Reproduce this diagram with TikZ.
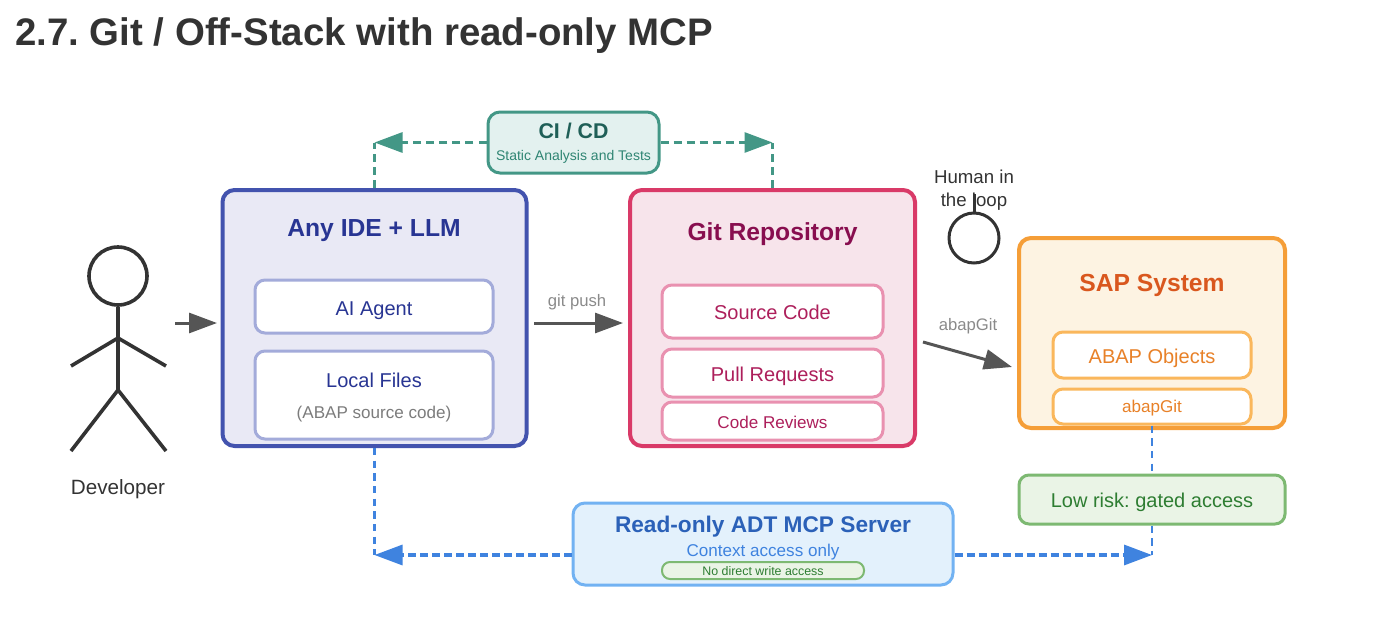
\documentclass[tikz,border=0pt]{standalone}
\usepackage{fontspec}
\setmainfont{Liberation Sans}
\usetikzlibrary{arrows.meta}
\definecolor{idefill}{HTML}{E9E9F5}
\definecolor{idedraw}{HTML}{4353AE}
\definecolor{idetext}{HTML}{283593}
\definecolor{ideinner}{HTML}{A3ABDA}
\definecolor{gitfill}{HTML}{F7E4EB}
\definecolor{gitdraw}{HTML}{D93A68}
\definecolor{gittext}{HTML}{880E4F}
\definecolor{gitinner}{HTML}{E991B0}
\definecolor{gitsub}{HTML}{AD1F5B}
\definecolor{sapfill}{HTML}{FDF3E2}
\definecolor{sapdraw}{HTML}{F59E38}
\definecolor{saptext}{HTML}{D9571E}
\definecolor{sapinner}{HTML}{FAB75C}
\definecolor{sapsub}{HTML}{E88128}
\definecolor{okfill}{HTML}{EAF4E6}
\definecolor{okdraw}{HTML}{7DB972}
\definecolor{oktext}{HTML}{2E7D32}
\definecolor{mcpfill}{HTML}{E3F1FC}
\definecolor{mcpdraw}{HTML}{72B2F2}
\definecolor{mcptext}{HTML}{2B61B8}
\definecolor{mcpsub}{HTML}{3F83DF}
\definecolor{cifill}{HTML}{E3F1EF}
\definecolor{cidraw}{HTML}{439786}
\definecolor{citext}{HTML}{1F5F57}
\definecolor{cisub}{HTML}{2F8573}
\definecolor{ink}{HTML}{333333}
\definecolor{arrowgrey}{HTML}{555555}
\definecolor{labelgrey}{HTML}{8A8A8A}
\tikzset{
  bx/.style 2 args={rectangle, rounded corners=#1*0.75pt, draw, inner sep=0pt, line width=#2*0.75pt},
  sz/.style 2 args={minimum width=#1*0.75pt, minimum height=#2*0.75pt},
  big/.style={bx={12}{4}},
  sub/.style={bx={10}{3}, fill=white},
  tx/.style={inner sep=0pt, align=center, font=\frenchspacing\fontsize{#1}{#1}\selectfont},
  txb/.style={inner sep=0pt, align=center, font=\frenchspacing\fontsize{#1}{#1}\bfseries\selectfont},
  head/.style={circle, draw=ink, inner sep=0pt},
  stick/.style={draw=ink, line width=2.7pt},
  flow/.style={draw=arrowgrey, line width=2.25pt, -{Triangle[length=21pt,width=15pt]}},
  cidash/.style={draw=cidraw, line width=2.2pt, dash pattern=on 6pt off 3.8pt},
  mcpdash/.style={draw=mcpsub, line width=2.4pt, dash pattern=on 6pt off 3pt},
  mcpthin/.style={draw=mcpsub, line width=1.7pt, dash pattern=on 5.5pt off 4pt},
  tip/.style={-{Triangle[length=21pt,width=15pt]}}
}
\begin{document}
\begin{tikzpicture}[x=0.75pt,y=-0.75pt]
  \useasboundingbox (0,0) rectangle (1376,632);
  \node[txb=28.8, text=ink, anchor=west] (title) at (15,36) {2.7. Git / Off-Stack with read-only MCP};

  % main boxes
  \node[big, sz={304}{256}, draw=idedraw, fill=idefill] (ide) at (374.5,318) {};
  \node[big, sz={285}{256}, draw=gitdraw, fill=gitfill] (git) at (772.5,318) {};
  \node[big, sz={266}{190}, draw=sapdraw, fill=sapfill] (sap) at (1152,333) {};
  \node[bx={10}{3}, sz={266}{49}, draw=okdraw, fill=okfill] (risk) at (1152,499.5) {};
  \node[bx={12}{3}, sz={380}{82}, draw=mcpdraw, fill=mcpfill] (mcp) at (763,544) {};
  \node[bx={12}{3}, sz={171}{61}, draw=cidraw, fill=cifill] (ci) at (573.5,142.5) {};

  % inner boxes
  \node[sub, sz={238}{53}, draw=ideinner] (agent) at (374,306.5) {};
  \node[sub, sz={238}{88}, draw=ideinner] (files) at (374,395) {};
  \node[sub, sz={221}{53}, draw=gitinner] (src) at (772.5,311.5) {};
  \node[sub, sz={221}{48}, draw=gitinner] (pr) at (772.5,373) {};
  \node[sub, sz={221}{38}, draw=gitinner] (cr) at (772.5,421) {};
  \node[sub, sz={198}{46}, draw=sapinner] (objects) at (1152,355) {};
  \node[sub, sz={198}{35}, draw=sapinner] (agit) at (1152,406.5) {};
  \node[bx={8}{2}, sz={202}{17}, draw=okdraw, fill=okfill] (nowrite) at (763,570.5) {};

  % texts
  \node[txb=18.5, text=idetext] (idet) at (374,231) {Any IDE + LLM};
  \node[tx=15, text=idetext] (agentt) at (374,311) {AI Agent};
  \node[tx=15, text=idetext] (filest) at (374,380.5) {Local Files};
  \node[tx=12.8, text=labelgrey!90!black] (filess) at (374,414.5) {(ABAP source code)};
  \node[txb=18.5, text=gittext] (gitt) at (772.5,234) {Git Repository};
  \node[tx=15, text=gitsub] (srct) at (772.5,312.5) {Source Code};
  \node[tx=15, text=gitsub] (prt) at (772.5,376) {Pull Requests};
  \node[tx=12.8, text=gitsub] (crt) at (772.5,422) {Code Reviews};
  \node[txb=18.5, text=saptext] (sapt) at (1152,285) {SAP System};
  \node[tx=15, text=sapsub] (objectst) at (1152,358) {ABAP Objects};
  \node[tx=12.8, text=sapsub] (agitt) at (1152,408.5) {abapGit};
  \node[tx=15, text=oktext] (riskt) at (1152,502.5) {Low risk: gated access};
  \node[txb=17, text=mcptext] (mcpt) at (763,527) {Read-only ADT MCP Server};
  \node[tx=12.8, text=mcpsub] (mcps) at (763,552.5) {Context access only};
  \node[tx=9.3, text=oktext] (nowritet) at (763,571.5) {No direct write access};
  \node[txb=16, text=citext] (cit) at (573.5,131) {CI / CD};
  \node[tx=10.5, text=cisub] (cis) at (573.5,157) {Static Analysis and Tests};
  \node[tx=12.5, text=labelgrey] (pusht) at (577,302) {git push};
  \node[tx=12.5, text=labelgrey] (abapt) at (968,326) {abapGit};

  % developer
  \node[head, line width=2.7pt, minimum size=43.5pt] (dev) at (118,276) {};
  \coordinate (shoulder) at (118,338);
  \coordinate (hip) at (118,390);
  \coordinate (handl) at (71,366);
  \coordinate (handr) at (166,366);
  \coordinate (footl) at (71,451);
  \coordinate (footr) at (166,451);
  \draw[stick] (dev) -- (hip);
  \draw[stick] (handl) -- (shoulder) -- (handr);
  \draw[stick] (footl) -- (hip) -- (footr);
  \node[tx=15.5, text=ink] (devt) at (118,489) {Developer};

  % human in the loop
  \node[head, line width=2.25pt, minimum size=37.5pt] (hil) at (974,238) {};
  \coordinate (hilneck) at (974,194);
  \node[tx=14, text=ink] (hilt) at (974,177) {Human in};
  \node[tx=14, text=ink] (hilb) at (974,202) {the loop};
  \draw[draw=ink, line width=2.25pt] (hil) -- (hilneck);

  % plain arrows
  \coordinate (devout) at (175,323);
  \coordinate (idein) at (217,323);
  \coordinate (pushout) at (534,323);
  \coordinate (gitin) at (623,323);
  \coordinate (abapout) at (923,342);
  \coordinate (sapin) at (1012,367);
  \draw[flow] (devout) -- (idein);
  \draw[flow] (pushout) -- (gitin);
  \draw[flow] (abapout) -- (sapin);

  % CI corners
  \coordinate (cil) at (ide.north |- ci.west);
  \coordinate (cir) at (git.north |- ci.east);
  \draw[cidash, tip] (ci.west) -- (cil);
  \draw[cidash, tip] (ci.east) -- (cir);
  \draw[cidash] (ide.north) -- (cil);
  \draw[cidash] (git.north) -- (cir);

  % MCP corners
  \coordinate (mcpwest) at ([yshift=-8.25pt]mcp.west);
  \coordinate (mcpeast) at ([yshift=-8.25pt]mcp.east);
  \coordinate (mcpl) at (ide.south |- mcpwest);
  \coordinate (mcpr) at (risk.south |- mcpeast);
  \draw[mcpdash, tip] (mcpwest) -- (mcpl);
  \draw[mcpdash, tip] (mcpeast) -- (mcpr);
  \draw[mcpthin] (ide.south) -- (mcpl);
  \draw[mcpthin] (risk.south) -- (mcpr);
  \draw[mcpthin] (agit.south) -- (risk.north);
\end{tikzpicture}
\end{document}
